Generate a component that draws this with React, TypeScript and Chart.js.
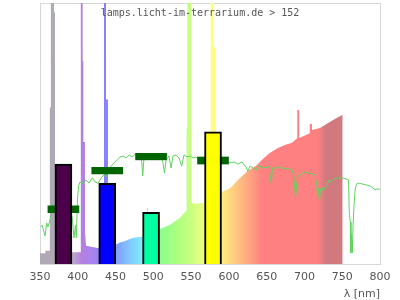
import { useEffect, useRef } from "react";
import { Chart, registerables } from "chart.js";

Chart.register(...registerables);

const TITLE = "lamps.licht-im-terrarium.de > 152";
const X_MIN = 350;
const X_MAX = 800;
const X_STEP = 50;
const X_LABEL = "λ [nm]";

// lamp spectrum (relative intensity, 0..100 = top of plot)
const specNm = [
  350, 357, 357.1, 362.9, 363, 364.3, 364.4, 368.4, 368.5, 369.8, 369.9, 391, 403.9, 404, 406.4, 406.5,
  407.3, 407.4, 409.5, 409.6, 411, 428, 434.6, 434.7, 437.3, 437.4, 440, 440.1, 451, 456, 462, 468, 475,
  486, 491.5, 491.6, 492.8, 492.9, 508.8, 522, 535, 543.9, 544, 544.9, 545, 550, 550.1, 553, 567, 575.8,
  575.9, 580, 580.1, 582.5, 582.6, 591, 601.5, 612, 624, 637, 645, 654, 665, 674, 683.5, 690.4, 690.5,
  693.1, 693.2, 707, 707.1, 709.9, 710, 720.5, 727, 738, 750.6,
];
const specVal = [
  4.1, 4.1, 5.1, 5.1, 60, 60, 200, 200, 96.5, 96.5, 5, 4.5, 4.5, 200, 200, 77.8,
  77.8, 46.7, 46.7, 12, 7, 6, 6.3, 200, 200, 63, 63, 7, 7.5, 8.2, 8.7, 9.5, 10.2,
  10.4, 11, 21.5, 21.5, 11.5, 13.4, 15, 17.6, 20.5, 52, 52, 200, 200, 24, 23, 23.5, 24,
  200, 200, 83, 83, 26, 27.7, 29, 32.2, 35.4, 37.9, 40.2, 42.5, 44.4, 45.6, 46.5, 48.2, 59,
  59, 48.3, 50.1, 53.6, 53.6, 51.3, 52.1, 53.3, 55.2, 57.2,
];

// reference (daylight) curve
const sunNm = [
  351, 352.6, 354.6, 356.6, 358.9, 360.6, 363.2, 365.5, 368.5, 375, 385, 390.6, 393, 395, 397, 398, 399.6,
  401, 403, 407, 411, 415, 419, 423, 427, 431, 434.7, 437.4, 440, 444, 448, 452, 456, 460, 464, 468, 472,
  476, 480, 484, 486, 487.6, 491.6, 495.6, 499.6, 503.5, 507.5, 511.5, 514.8, 516.8, 520.7, 523.4, 526, 530,
  534, 537.5, 540.6, 544.6, 548.5, 552.5, 556.5, 560.4, 564.4, 572, 582, 591, 596, 601.5, 606.8, 612, 617.4,
  622.6, 625, 628, 632, 636, 638.5, 643.8, 649, 653, 656, 657.7, 662.4, 667.6, 673, 678, 683.5, 686, 688,
  689.5, 691.5, 695.4, 699.4, 704.7, 710, 714, 716.6, 717.5, 718.6, 720, 721, 723, 725, 727, 730, 732.5,
  735, 739, 744.4, 749.7, 755, 758.3, 759.4, 760.7, 761.6, 762.5, 763.4, 764.3, 765.6, 767, 769, 771.3, 776,
  781.5, 786.8, 790.7, 793.4, 796, 800,
];
const sunVal = [
  14.3, 14.9, 13, 10.7, 15.7, 14.2, 16.9, 19.5, 22.6, 23, 22, 21.5, 16.9, 10, 14.9, 10, 24.5,
  29.9, 31.4, 30.7, 32.2, 31, 33, 31.4, 31, 33, 34.1, 33.3, 35.2, 37.5, 38.7, 39.8, 41, 41.4, 40.6, 41.8, 41,
  42.1, 41.4, 41.8, 33.7, 40.6, 41.8, 42.1, 41.4, 42.1, 41.8, 41, 34.9, 39.8, 41.4, 36.8, 41.4, 41.8,
  40.6, 37.5, 41.8, 41, 41.4, 40.6, 41, 39.8, 40.6, 40, 39.5, 38.7, 39.3, 38.7, 39.1, 38.3, 39.1,
  37.2, 35.6, 37.5, 36.8, 36, 37.5, 37.2, 36.8, 37.5, 31, 36.8, 36.8, 37.2, 36.4, 36.8, 36, 33.7, 25.3,
  29.9, 33.7, 34.5, 35.2, 34.9, 34.5, 34.1, 29.9, 24.5, 29, 24.5, 28.4, 29.5, 28, 29, 30.3, 32.2,
  31.4, 32.6, 33, 33, 32.6, 32.2, 19.5, 16.1, 4.2, 11.1, 4.2, 14.6, 22.2, 28.4, 30.7, 31, 30.7,
  30.3, 29.9, 29.1, 28.4, 28.7, 28.7,
];

// LED-like bars (peak wavelength, height) and their target bands
const lampNm = [381, 439, 497, 579];
const lampVal = [38.3, 30.9, 19.8, 50.6];
const bandLo = [19.7, 34.5, 39.9, 38.3];
const bandHi = [22.3, 37.0, 42.4, 41.0];

const lampColors = ["#4b0049", "#0000ff", "#00ffa0", "#ffff00"];
const SPECTRUM_STOPS: [number, string][] = [
  [350, "#b0a8b4"], [385, "#b0a8b4"], [395, "#bca4d0"], [405, "#b480e0"], [420, "#a882f0"],
  [436, "#8880ff"], [450, "#8099ff"], [470, "#80ccff"], [488, "#80f2ff"], [500, "#80ffc0"],
  [510, "#8cff8c"], [530, "#aaff80"], [546, "#c2ff80"], [565, "#e8ff80"], [578, "#ffff80"],
  [592, "#ffea80"], [605, "#ffd080"], [625, "#ffa880"], [645, "#ff8080"], [718, "#ff8080"],
  [728, "#d07a80"], [800, "#d07a80"],
];

export default function App() {
  const ref = useRef<HTMLCanvasElement | null>(null);

  useEffect(() => {
    document.body.style.margin = "0";
    if (!ref.current) return;

    const framePlugin = {
      id: "frame",
      beforeDatasetsDraw(chart: any) {
        const { ctx, chartArea: a } = chart;
        ctx.save();
        ctx.strokeStyle = "#d8d8d8";
        ctx.lineWidth = 1;
        ctx.strokeRect(Math.round(a.left) + 0.5, Math.round(a.top) + 0.5, Math.round(a.right - a.left), Math.round(a.bottom - a.top));
        ctx.restore();
      },
    };
    const titlePlugin = {
      id: "topTitle",
      afterDatasetsDraw(chart: any) {
        const c = chart.ctx;
        c.save();
        c.font = '10px "DejaVu Sans Mono"';
        c.fillStyle = "#555";
        c.textAlign = "center";
        c.textBaseline = "alphabetic";
        c.fillText(TITLE, chart.width / 2, 16);
        c.restore();
      },
    };

    const chart = new Chart(ref.current, {
      type: "line",
      data: {
        datasets: [
          {
            type: "bar",
            data: lampNm.map((x, i) => ({ x, y: lampVal[i] })),
            backgroundColor: lampColors,
            borderColor: "#000",
            borderWidth: 2,
            barThickness: 17,
            grouped: false,
            order: 1,
          } as any,
          {
            type: "bar",
            data: lampNm.map((x, i) => ({ x, y: [bandLo[i], bandHi[i]] })),
            backgroundColor: "#006400",
            borderWidth: 0,
            barThickness: 31,
            grouped: false,
            order: 2,
          } as any,
          {
            type: "line",
            data: sunNm.map((x, i) => ({ x, y: sunVal[i] })),
            borderColor: "#5fd35f",
            borderWidth: 1,
            pointRadius: 0,
            fill: false,
            tension: 0,
            order: 3,
          },
          {
            type: "line",
            data: specNm.map((x, i) => ({ x, y: specVal[i] })),
            borderWidth: 0,
            borderColor: "rgba(0,0,0,0)",
            pointRadius: 0,
            tension: 0,
            fill: "origin",
            clip: { left: 0, top: 5, right: 0, bottom: 0 },
            backgroundColor: (c: any) => {
              const chart = c.chart;
              const xs = chart.scales && chart.scales.x;
              if (!chart.chartArea || !xs) return "#ff8080";
              const x0 = xs.getPixelForValue(X_MIN);
              const x1 = xs.getPixelForValue(X_MAX);
              const g = chart.ctx.createLinearGradient(x0, 0, x1, 0);
              for (const [nm, col] of SPECTRUM_STOPS) g.addColorStop((nm - X_MIN) / (X_MAX - X_MIN), col);
              return g;
            },
            order: 4,
          } as any,
        ],
      },
      options: {
        responsive: false,
        animation: false,
        events: [],
        layout: { padding: { left: 40, right: 20, top: 3, bottom: 0 } },
        plugins: { legend: { display: false }, tooltip: { enabled: false }, title: { display: false } },
        scales: {
          x: {
            type: "linear",
            min: X_MIN,
            max: X_MAX,
            offset: false,
            grid: { display: false, drawTicks: false },
            border: { display: false },
            ticks: { stepSize: X_STEP, padding: 7, color: "#555", font: { family: '"DejaVu Sans"', size: 11 } },
            title: {
              display: true,
              text: X_LABEL,
              align: "end",
              color: "#555",
              font: { family: '"DejaVu Sans"', size: 11, lineHeight: 1 },
              padding: { top: 0, bottom: 0 },
            },
            afterFit: (s: any) => {
              s.height = 36;
            },
          },
          y: { display: false, min: 0, max: 100 },
        },
      } as any,
      plugins: [framePlugin, titlePlugin],
    });
    return () => chart.destroy();
  }, []);

  return (
    <div style={{ width: 400, height: 300 }}>
      <canvas ref={ref} width={400} height={300} style={{ display: "block" }} />
    </div>
  );
}
